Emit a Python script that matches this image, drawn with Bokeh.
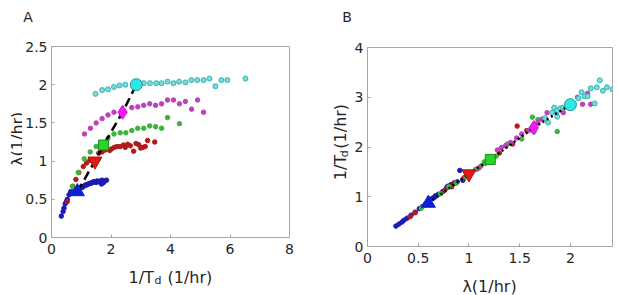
import math
from bokeh.plotting import figure
from bokeh.layouts import row, column
from bokeh.models import FixedTicker, Range1d
from bokeh.core.properties import value
from bokeh.embed import file_html
from bokeh.resources import INLINE

# ---------------- data: panel A (x = 1/Td, y = lambda) ----------------
a_cyan_x = [1.48, 1.70, 1.90, 2.10, 2.29, 2.48, 3.10, 3.31, 3.52, 3.70, 3.90, 4.10, 4.29, 4.50,
            4.70, 4.90, 5.11, 5.31, 5.51, 5.71, 5.91, 6.52]
a_cyan_y = [1.88, 1.93, 1.94, 1.97, 1.99, 2.00, 2.02, 2.02, 2.02, 2.02, 2.04, 2.02, 2.04, 2.03,
            2.06, 2.06, 2.06, 2.08, 1.98, 2.06, 2.06, 2.08]
a_mag_x = [1.11, 1.31, 1.50, 1.70, 1.90, 2.10, 2.70, 2.90, 3.10, 3.30, 3.50, 3.70, 3.90, 4.10,
           4.30, 4.50, 4.71, 4.91, 5.11]
a_mag_y = [1.355, 1.43, 1.50, 1.556, 1.604, 1.64, 1.70, 1.71, 1.73, 1.75, 1.73, 1.75, 1.80, 1.80,
           1.75, 1.78, 1.68, 1.80, 1.64]
a_green_x = [0.70, 0.90, 1.10, 1.30, 1.50, 1.90, 2.10, 2.31, 2.50, 2.70, 2.90, 3.10, 3.30, 3.50,
             3.70, 3.90, 4.30]
a_green_y = [0.67, 0.85, 1.03, 1.12, 1.19, 1.30, 1.355, 1.37, 1.37, 1.40, 1.43, 1.43, 1.46, 1.45,
             1.43, 1.57, 1.49]
a_red_x = [0.53, 0.72, 0.82, 0.92, 1.07, 1.18, 1.29, 1.59, 1.70, 1.81, 1.96, 2.02, 2.11, 2.20,
           2.31, 2.42, 2.48, 2.56, 2.65, 2.76, 2.84, 2.93, 3.00, 3.07, 3.15, 3.23, 3.47]
a_red_y = [0.47, 0.67, 0.76, 0.85, 0.93, 0.975, 1.01, 1.105, 1.12, 1.145, 1.14, 1.16, 1.18, 1.19,
           1.19, 1.21, 1.18, 1.22, 1.20, 1.13, 1.23, 1.215, 1.17, 1.18, 1.19, 1.27, 1.25]
a_blue_x = [0.33, 0.39, 0.42, 0.46, 0.50, 0.53, 0.59, 0.645, 0.70, 0.75, 0.79, 0.85, 0.95, 0.99,
            1.03, 1.08, 1.12, 1.16, 1.20, 1.24, 1.28, 1.33, 1.37, 1.41, 1.46, 1.50, 1.53, 1.59,
            1.64, 1.68, 1.70, 1.75, 1.79, 1.85]
a_blue_y = [0.28, 0.34, 0.385, 0.44, 0.47, 0.50, 0.56, 0.60, 0.58, 0.60, 0.61, 0.63, 0.65, 0.66,
            0.655, 0.67, 0.68, 0.69, 0.69, 0.70, 0.71, 0.71, 0.72, 0.73, 0.73, 0.72, 0.74, 0.73,
            0.74, 0.70, 0.75, 0.72, 0.74, 0.75]

# ---------------- data: panel B (x = lambda, y = 1/Td) ----------------
b_blue_x = [0.28, 0.31, 0.34, 0.36, 0.39, 0.43, 0.47, 0.51, 0.54, 0.57, 0.64, 0.66, 0.67, 0.70,
            0.74, 0.78, 0.79, 0.82, 0.85, 0.885, 0.91, 0.94]
b_blue_y = [0.41, 0.45, 0.49, 0.53, 0.57, 0.63, 0.69, 0.76, 0.80, 0.85, 0.97, 0.99, 1.02, 1.05,
            1.10, 1.18, 1.21, 1.24, 1.27, 1.30, 1.53, 1.33]
b_red_x = [0.42, 0.47, 0.60, 0.76, 0.83, 0.86, 0.95, 1.08, 1.25, 1.30, 1.37, 1.43, 1.475, 1.57, 1.62]
b_red_y = [0.60, 0.68, 0.88, 1.13, 1.20, 1.28, 1.38, 1.56, 1.80, 1.88, 2.04, 2.06, 2.42, 2.33, 2.38]
b_green_x = [0.53, 0.60, 0.72, 0.80, 0.875, 0.97, 1.065, 1.12, 1.16, 1.15, 1.27, 1.38, 1.52,
             1.625, 1.68, 1.87]
b_green_y = [0.77, 0.92, 1.06, 1.20, 1.27, 1.40, 1.55, 1.62, 1.67, 1.70, 1.82, 2.06, 2.16,
             2.60, 2.55, 2.31]
b_mag_x = [1.10, 1.18, 1.28, 1.32, 1.36, 1.41, 1.47, 1.52, 1.59, 1.68, 1.72, 1.77, 1.86, 1.93,
           2.07, 2.12, 2.17, 2.20]
b_mag_y = [1.58, 1.72, 1.94, 1.99, 2.02, 2.09, 2.18, 2.26, 2.33, 2.49, 2.56, 2.69, 2.70, 2.69,
           3.00, 2.86, 3.08, 2.86]
b_cyan_x = [1.64, 1.75, 1.78, 1.82, 1.84, 1.87, 1.87, 1.90, 1.93, 2.08, 2.11, 2.14, 2.17, 2.20,
            2.24, 2.26, 2.29, 2.32, 2.36, 2.415]
b_cyan_y = [2.31, 2.58, 2.49, 2.69, 2.79, 2.61, 2.73, 2.78, 2.79, 2.98, 3.10, 3.02, 3.02, 3.18,
            2.875, 3.20, 3.34, 3.13, 3.20, 3.16]

# big reference markers (lambda, 1/Td)
mark_lambda = [0.60, 1.00, 1.21, 1.64, 2.00]
mark_inv_td = [0.87, 1.46, 1.75, 2.39, 2.85]
mark_shapes = ["triangle", "inverted_triangle", "square", "diamond", "circle"]
mark_fill = ["#0b1fd6", "#e01818", "#2bd42b", "#f21af2", "#2ee6e6"]
mark_line = ["#0b1fd6", "#b01010", "#1a8c1a", "#d010d0", "#1a9a9a"]
mark_size = [14, 14, 10, 14, 12]

# ticks
a_xticks = [0, 2, 4, 6, 8]
a_xlabels = ["0", "2", "4", "6", "8"]
a_yticks = [0, 0.5, 1, 1.5, 2, 2.5]
a_ylabels = ["0", "0.5", "1", "1.5", "2", "2.5"]
b_xticks = [0, 0.5, 1, 1.5, 2]
b_xlabels = ["0", "0.5", "1", "1.5", "2"]
b_yticks = [0, 1, 2, 3, 4]
b_ylabels = ["0", "1", "2", "3", "4"]

FONT = "DejaVu Sans"
GRAY = "#a6a6a6"
TXT = "#262626"

dot_colors = {"blue": "#1c1cb4", "red": "#b31b1b", "green": "#3cb43c",
              "mag": "#bf3fbf", "cyan": "#45c4c4"}


def style_axis(ax, ticks, labels, standoff):
    ax.ticker = FixedTicker(ticks=ticks)
    ax.major_label_overrides = {t: l for t, l in zip(ticks, labels)}
    ax.axis_line_color = GRAY
    ax.major_tick_line_color = GRAY
    ax.major_tick_in = 3
    ax.major_tick_out = 0
    ax.minor_tick_line_color = None
    ax.major_label_text_font = FONT
    ax.major_label_text_color = TXT
    ax.major_label_text_font_size = "14px"
    ax.major_label_standoff = standoff


def make_fig(width, height, borders, xr, yr, xt, xl, yt, yl):
    p = figure(width=width, height=height, output_backend="svg", toolbar_location=None,
               title=None, x_range=Range1d(*xr), y_range=Range1d(*yr),
               min_border_left=borders[0], min_border_right=borders[1],
               min_border_top=borders[2], min_border_bottom=borders[3])
    p.xgrid.grid_line_color = None
    p.ygrid.grid_line_color = None
    p.outline_line_color = GRAY
    p.outline_line_width = 1
    p.background_fill_color = "white"
    p.border_fill_color = "white"
    style_axis(p.xaxis[0], xt, xl, 6)
    style_axis(p.yaxis[0], yt, yl, 4)
    return p


def strip(width, height):
    s = figure(width=width, height=height, output_backend="svg", toolbar_location=None,
               title=None, x_range=Range1d(0, width), y_range=Range1d(0, height),
               x_axis_type=None, y_axis_type=None, min_border=0)
    s.xgrid.grid_line_color = None
    s.ygrid.grid_line_color = None
    s.outline_line_color = None
    s.background_fill_color = "white"
    s.border_fill_color = "white"
    return s


def txt(s, x, y, text, size, angle=0.0, align="left"):
    s.text(x=[x], y=[y], text=[text], angle=angle, text_font=value(FONT),
           text_font_size=value(size), text_color=TXT, text_align=align,
           text_baseline="alphabetic")


# ---------------- panel A ----------------
pA = make_fig(288, 232, (27, 21, 16, 25), (0, 8), (0, 2.5),
              a_xticks, a_xlabels, a_yticks, a_ylabels)
for xs, ys, key in [(a_blue_x, a_blue_y, "blue"), (a_red_x, a_red_y, "red"),
                    (a_green_x, a_green_y, "green"), (a_mag_x, a_mag_y, "mag")]:
    pA.scatter(xs, ys, size=4.5, color=dot_colors[key])
pA.scatter(a_cyan_x, a_cyan_y, size=5, fill_color="#7ad9d9", line_color="#33b5b5", line_width=1)
pA.line(mark_inv_td, mark_lambda, line_color="black", line_width=2.5, line_dash="9 5")
for i in range(5):
    pA.scatter([mark_inv_td[i]], [mark_lambda[i]], marker=mark_shapes[i], size=mark_size[i],
               fill_color=mark_fill[i], line_color=mark_line[i], line_width=1)

topA = strip(310, 30)
txt(topA, 22.7, 14, "A", "14px")
leftA = strip(22, 232)
txt(leftA, 16.5, 87, "\u03bb(1/hr)", "16px", angle=math.pi / 2)
botA = strip(310, 33)
txt(botA, 128, 18.3, "1/T", "16px")
txt(botA, 154, 14.7, "d", "11px")
txt(botA, 167, 18.3, "(1/hr)", "16px")

colA = column(topA, row(leftA, pA, spacing=0), botA, spacing=0)

# ---------------- panel B ----------------
pB = make_fig(268, 240, (18, 5, 17, 24), (0, 2.415), (0, 4),
              b_xticks, b_xlabels, b_yticks, b_ylabels)
for xs, ys, key in [(b_blue_x, b_blue_y, "blue"), (b_red_x, b_red_y, "red"),
                    (b_green_x, b_green_y, "green"), (b_mag_x, b_mag_y, "mag")]:
    pB.scatter(xs, ys, size=4.5, color=dot_colors[key])
pB.scatter(b_cyan_x, b_cyan_y, size=5, fill_color="#7ad9d9", line_color="#33b5b5", line_width=1)
pB.line(mark_lambda, mark_inv_td, line_color="black", line_width=2.5, line_dash="2 3")
for i in range(5):
    pB.scatter([mark_lambda[i]], [mark_inv_td[i]], marker=mark_shapes[i], size=mark_size[i],
               fill_color=mark_fill[i], line_color=mark_line[i], line_width=1)

topB = strip(307, 30)
txt(topB, 31.7, 14, "B", "14px")
leftB = strip(39, 240)
txt(leftB, 30, 80, "1/T", "16px", angle=math.pi / 2)
txt(leftB, 33.5, 107.5, "d", "11px", angle=math.pi / 2)
txt(leftB, 30, 118, "(1/hr)", "16px", angle=math.pi / 2)
botB = strip(307, 25)
txt(botB, 179, 9, "\u03bb(1/hr)", "16px", align="center")

colB = column(topB, row(leftB, pB, spacing=0), botB, spacing=0)

layout = row(colA, colB, spacing=0)
open("out.html", "w").write(file_html(layout, INLINE))
